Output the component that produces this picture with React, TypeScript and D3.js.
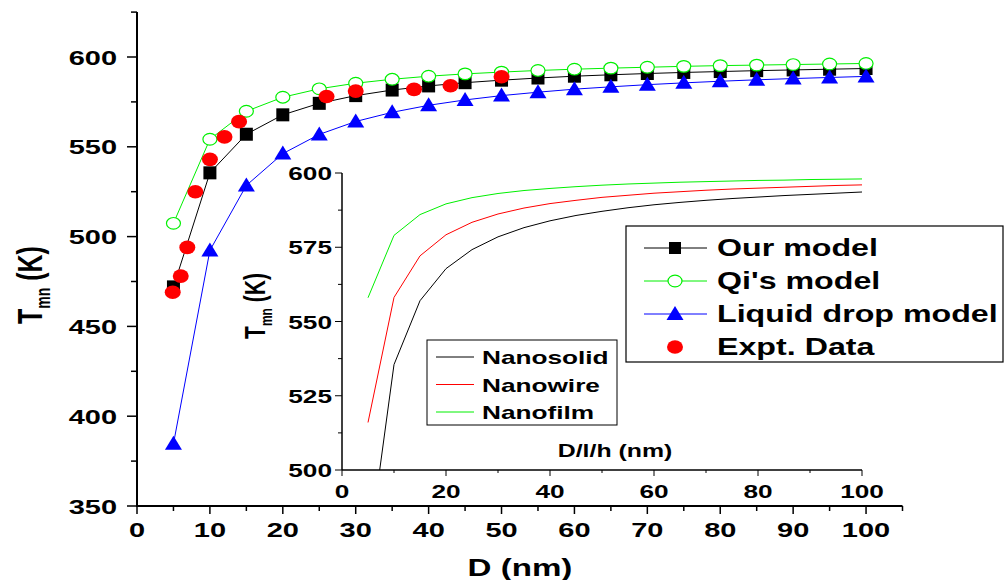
import React from 'react';
import * as d3 from 'd3';

// main chart: D (nm) vs Tmn (K)
const modelD = [5, 10, 15, 20, 25, 30, 35, 40, 45, 50, 55, 60, 65, 70, 75, 80, 85, 90, 95, 100];
const ourModel = [472, 535.5, 557, 567.8, 574.2, 578.5, 581.6, 583.9, 585.7, 587.1, 588.3, 589.3, 590.1, 590.8, 591.4, 591.9, 592.4, 592.8, 593.2, 593.6];
const qiModel = [507.4, 554.2, 569.8, 577.6, 582.3, 585.4, 587.6, 589.3, 590.6, 591.6, 592.5, 593.2, 593.8, 594.3, 594.8, 595.2, 595.5, 595.8, 596.1, 596.4];
const liquidDrop = [384.6, 492.3, 528.5, 546.2, 556.9, 564.1, 569.2, 573.1, 576.1, 578.5, 580.4, 582.1, 583.4, 584.6, 585.6, 586.5, 587.3, 588.0, 588.6, 589.2];
const exptD = [4.9, 6, 6.9, 8, 10, 12, 14, 26, 30, 38, 43, 50];
const exptT = [469, 478, 494, 525, 543, 555.5, 564, 578, 581, 582, 584, 589];

// inset: D/l/h (nm)
const insetX = [5, 10, 15, 20, 25, 30, 35, 40, 45, 50, 55, 60, 65, 70, 75, 80, 85, 90, 95, 100];
const nanosolid = [471, 535.5, 557, 567.8, 574.2, 578.5, 581.6, 583.9, 585.7, 587.1, 588.3, 589.3, 590.1, 590.8, 591.4, 591.9, 592.4, 592.8, 593.2, 593.6];
const nanowire = [516, 558.1, 572.1, 579.2, 583.4, 586.2, 588.2, 589.7, 590.8, 591.8, 592.5, 593.2, 593.7, 594.2, 594.6, 594.9, 595.2, 595.5, 595.8, 596];
const nanofilm = [558, 579, 586, 589.6, 591.7, 593.1, 594.1, 594.8, 595.4, 595.9, 596.3, 596.6, 596.9, 597.1, 597.3, 597.5, 597.6, 597.8, 597.9, 598];

const mainXTicks = [0, 10, 20, 30, 40, 50, 60, 70, 80, 90, 100];
const mainYTicks = [350, 400, 450, 500, 550, 600];
const insetXTicks = [0, 20, 40, 60, 80, 100];
const insetYTicks = [500, 525, 550, 575, 600];

const FONT = '"Liberation Sans", Arial, sans-serif';
const GREEN = '#00f000';
const SX = 1.38; // glyphs in the original are drawn wide

// bold text, stretched horizontally
function ST(p: { x: number; y: number; size: number; anchor?: string; rot?: boolean; sx?: number; children: React.ReactNode }) {
  const sx = p.sx ?? SX;
  return (
    <text
      transform={`translate(${p.x},${p.y}) scale(${sx},1)${p.rot ? ' rotate(-90)' : ''}`}
      textAnchor={p.anchor || 'start'}
      fontSize={p.size}
      fontWeight="bold"
    >
      {p.children}
    </text>
  );
}

export default function App() {
  const x = d3.scaleLinear().domain([0, 105]).range([137, 902.5]);
  const y = d3.scaleLinear().domain([350, 600]).range([506, 57]);
  const yTop = y(625);

  const ix = d3.scaleLinear().domain([0, 100]).range([342, 862]);
  const iy = d3.scaleLinear().domain([500, 600]).range([470, 173]);

  const line = d3.line<[number, number]>().x(d => x(d[0])).y(d => y(d[1]));
  const iline = d3.line<[number, number]>().x(d => ix(d[0])).y(d => iy(d[1]));
  const zip = (a: number[], b: number[]) => a.map((v, i) => [v, b[i]] as [number, number]);

  const xMinor = d3.range(5, 106, 10);
  const yMinor = d3.range(375, 626, 50);
  const ixMinor = d3.range(10, 101, 20);
  const iyMinor = d3.range(512.5, 601, 25);

  const tri = (cx: number, cy: number) => `M${cx},${cy - 8}L${cx + 8.5},${cy + 6}L${cx - 8.5},${cy + 6}Z`;

  return (
    <svg width={1004} height={580} style={{ position: 'absolute', left: 0, top: 0, background: '#fff' }} fontFamily={FONT}>
      <defs>
        <clipPath id="insetClip">
          <rect x={ix(0)} y={iy(600) - 5} width={ix(100) - ix(0) + 5} height={iy(500) - iy(600) + 5} />
        </clipPath>
      </defs>

      {/* main axes */}
      <line x1={x(0)} x2={x(0)} y1={yTop} y2={y(350) + 1} stroke="#000" strokeWidth={2} />
      <line x1={x(0)} x2={x(105)} y1={y(350)} y2={y(350)} stroke="#000" strokeWidth={2} />
      {mainYTicks.map(v => (
        <line key={'yM' + v} x1={x(0) - 10} x2={x(0)} y1={y(v)} y2={y(v)} stroke="#000" strokeWidth={1.5} />
      ))}
      {yMinor.map(v => (
        <line key={'ym' + v} x1={x(0) - 6} x2={x(0)} y1={y(v)} y2={y(v)} stroke="#000" strokeWidth={1.5} />
      ))}
      {mainXTicks.map(v => (
        <line key={'xM' + v} x1={x(v)} x2={x(v)} y1={y(350)} y2={y(350) + 8} stroke="#000" strokeWidth={1.5} />
      ))}
      {xMinor.map(v => (
        <line key={'xm' + v} x1={x(v)} x2={x(v)} y1={y(350)} y2={y(350) + 5} stroke="#000" strokeWidth={1.5} />
      ))}
      {mainYTicks.map(v => (
        <ST key={'yt' + v} x={x(0) - 20} y={y(v) + 7.5} size={21} anchor="end">{v}</ST>
      ))}
      {mainXTicks.map(v => (
        <ST key={'xt' + v} x={x(v)} y={y(350) + 31} size={21} anchor="middle">{v}</ST>
      ))}
      <ST x={520} y={576} size={24} anchor="middle">D (nm)</ST>
      <ST x={42} y={285} size={25} anchor="middle" rot>
        T<tspan fontSize={14} dy={6}>mn</tspan><tspan dy={-6}> (K)</tspan>
      </ST>

      {/* inset axes */}
      <line x1={ix(0)} x2={ix(0)} y1={iy(600)} y2={iy(500)} stroke="#000" strokeWidth={1.5} />
      <line x1={ix(0)} x2={ix(100)} y1={iy(500)} y2={iy(500)} stroke="#000" strokeWidth={1.5} />
      {insetYTicks.map(v => (
        <line key={'iyM' + v} x1={ix(0) - 7} x2={ix(0)} y1={iy(v)} y2={iy(v)} stroke="#000" strokeWidth={1} />
      ))}
      {iyMinor.map(v => (
        <line key={'iym' + v} x1={ix(0) - 4} x2={ix(0)} y1={iy(v)} y2={iy(v)} stroke="#000" strokeWidth={1} />
      ))}
      {insetXTicks.map(v => (
        <line key={'ixM' + v} x1={ix(v)} x2={ix(v)} y1={iy(500)} y2={iy(500) + 6} stroke="#000" strokeWidth={1} />
      ))}
      {ixMinor.map(v => (
        <line key={'ixm' + v} x1={ix(v)} x2={ix(v)} y1={iy(500)} y2={iy(500) + 3} stroke="#000" strokeWidth={1} />
      ))}
      {insetYTicks.map(v => (
        <ST key={'iyt' + v} x={ix(0) - 10} y={iy(v) + 7} size={19} anchor="end">{v}</ST>
      ))}
      {insetXTicks.map(v => (
        <ST key={'ixt' + v} x={ix(v)} y={iy(500) + 28} size={19} anchor="middle">{v}</ST>
      ))}
      <ST x={615} y={457} size={18} anchor="middle">D/l/h (nm)</ST>
      <ST x={265} y={306} size={21} anchor="middle" rot>
        T<tspan fontSize={12} dy={5}>mn</tspan><tspan dy={-5}> (K)</tspan>
      </ST>

      <g clipPath="url(#insetClip)" fill="none" strokeWidth={1}>
        <path d={iline(zip(insetX, nanosolid)) || ''} stroke="#000" />
        <path d={iline(zip(insetX, nanowire)) || ''} stroke="#ff0000" />
        <path d={iline(zip(insetX, nanofilm)) || ''} stroke={GREEN} />
      </g>

      {/* inset legend */}
      <rect x={427} y={340} width={190} height={85} fill="#fff" stroke="#000" strokeWidth={1} />
      {[['Nanosolid', '#000'], ['Nanowire', '#ff0000'], ['Nanofilm', GREEN]].map(([t, c], i) => (
        <g key={t}>
          <line x1={436} x2={474} y1={357 + i * 27.5} y2={357 + i * 27.5} stroke={c} strokeWidth={1} />
          <ST x={482} y={357 + i * 27.5 + 7} size={19}>{t}</ST>
        </g>
      ))}

      {/* main series */}
      <path d={line(zip(modelD, ourModel)) || ''} fill="none" stroke="#000" strokeWidth={1} />
      {modelD.map((d, i) => (
        <rect key={'sq' + d} x={x(d) - 6.5} y={y(ourModel[i]) - 6.5} width={13} height={13} fill="#000" />
      ))}
      <path d={line(zip(modelD, qiModel)) || ''} fill="none" stroke={GREEN} strokeWidth={1} />
      {modelD.map((d, i) => (
        <ellipse key={'ci' + d} cx={x(d)} cy={y(qiModel[i])} rx={7} ry={5.8} fill="#fff" stroke={GREEN} strokeWidth={1.2} />
      ))}
      <path d={line(zip(modelD, liquidDrop)) || ''} fill="none" stroke="#0000ff" strokeWidth={1} />
      {modelD.map((d, i) => (
        <path key={'tr' + d} d={tri(x(d), y(liquidDrop[i]))} fill="#0000ff" />
      ))}
      {exptD.map((d, i) => (
        <ellipse key={'ex' + d} cx={x(d)} cy={y(exptT[i])} rx={8} ry={6.8} fill="#ff0000" />
      ))}

      {/* main legend */}
      <rect x={626} y={226} width={377} height={136} fill="#fff" stroke="#000" strokeWidth={1.2} />
      <g>
        <line x1={644} x2={707} y1={248} y2={248} stroke="#000" strokeWidth={1} />
        <rect x={669} y={242} width={12} height={12} fill="#000" />
        <ST x={717} y={256} size={23} sx={1.4}>Our model</ST>

        <line x1={644} x2={707} y1={281} y2={281} stroke={GREEN} strokeWidth={1} />
        <ellipse cx={675} cy={281} rx={7} ry={5.8} fill="#fff" stroke={GREEN} strokeWidth={1.2} />
        <ST x={717} y={289} size={23} sx={1.4}>Qi's model</ST>

        <line x1={644} x2={707} y1={314} y2={314} stroke="#0000ff" strokeWidth={1} />
        <path d={tri(675, 314)} fill="#0000ff" />
        <ST x={717} y={322} size={23} sx={1.4}>Liquid drop model</ST>

        <ellipse cx={675} cy={347} rx={8} ry={6.8} fill="#ff0000" />
        <ST x={717} y={355} size={23} sx={1.4}>Expt. Data</ST>
      </g>
    </svg>
  );
}
